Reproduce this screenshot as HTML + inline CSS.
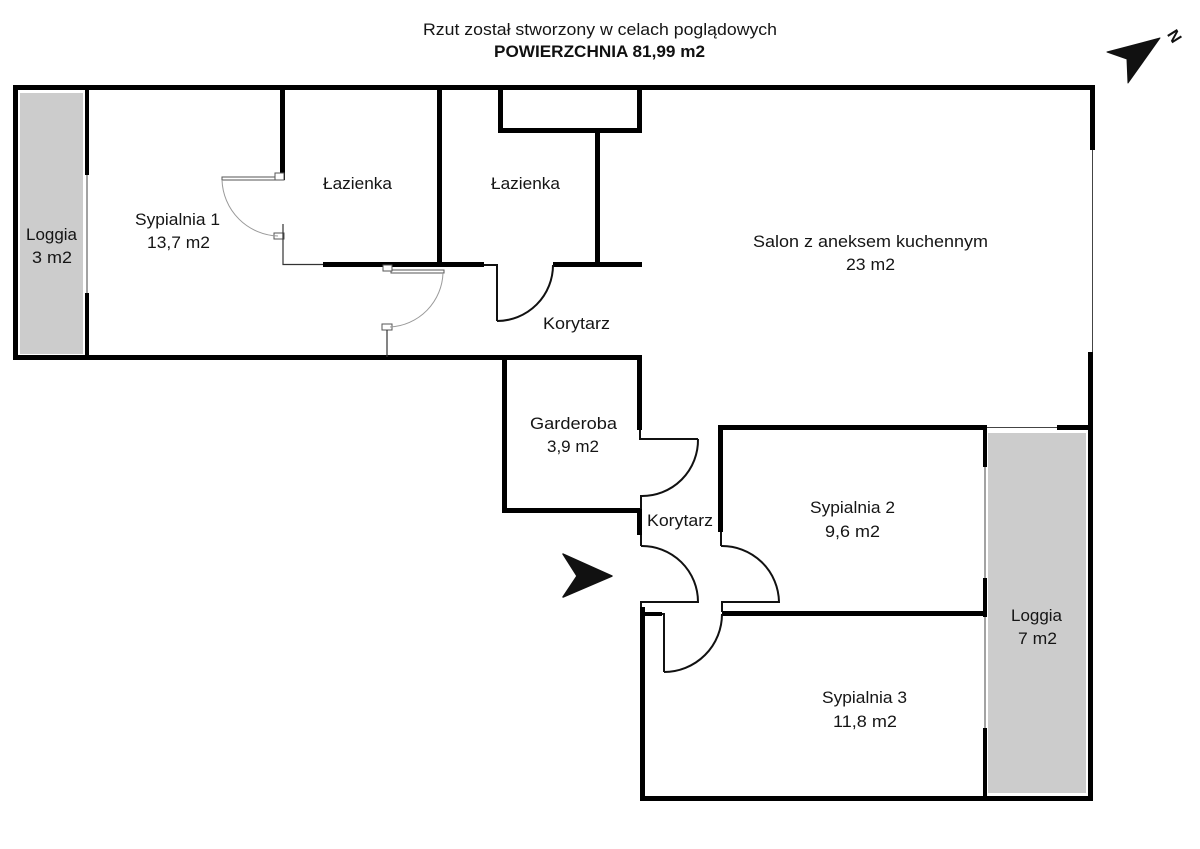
<!DOCTYPE html>
<html><head><meta charset="utf-8"><style>
html,body{margin:0;padding:0;background:#fff;}
svg{display:block;}
text{font-family:"Liberation Sans",Arial,sans-serif;fill:#151515;font-size:16.5px;}
</style></head><body>
<svg width="1200" height="849" viewBox="0 0 1200 849" xmlns="http://www.w3.org/2000/svg">
<rect width="1200" height="849" fill="#fff"/>
<!-- title -->
<text x="423" y="35" textLength="354" lengthAdjust="spacingAndGlyphs" font-size="16.5">Rzut został stworzony w celach poglądowych</text>
<text x="494" y="57" textLength="211" lengthAdjust="spacingAndGlyphs" font-size="17" font-weight="bold" style="fill:#111">POWIERZCHNIA 81,99 m2</text>

<!-- compass -->
<polygon points="1160,38 1107,52 1127,59 1128,83" fill="#111" stroke="#111" stroke-width="1" stroke-linejoin="round"/>
<text x="1170" y="36" font-size="12" font-weight="bold" transform="rotate(58 1170 32)" style="fill:#111">N</text>

<!-- loggia fills -->
<rect x="20" y="93" width="63" height="261" fill="#cccccc"/>
<rect x="988" y="433" width="98" height="360" fill="#cccccc"/>

<g fill="#000">
<!-- upper outer -->
<rect x="13" y="85" width="1082" height="5"/>
<rect x="13" y="85" width="5" height="275"/>
<rect x="13" y="355" width="629" height="5"/>
<rect x="1090" y="85" width="5" height="65"/>
<rect x="1088" y="352" width="5" height="449"/>
<!-- loggia 1 inner wall -->
<rect x="85" y="90" width="4" height="85"/>
<rect x="85" y="293" width="4" height="64"/>
<!-- bathroom walls -->
<rect x="280" y="90" width="5" height="90"/>
<rect x="437" y="90" width="5" height="175"/>
<rect x="323" y="262" width="161" height="5"/>
<rect x="553" y="262" width="89" height="5"/>
<!-- closet -->
<rect x="498" y="90" width="5" height="43"/>
<rect x="637" y="90" width="5" height="43"/>
<rect x="498" y="128" width="144" height="5"/>
<rect x="595" y="128" width="5" height="137"/>
<!-- garderoba -->
<rect x="502" y="357" width="5" height="156"/>
<rect x="502" y="508" width="140" height="5"/>
<rect x="637" y="357" width="5" height="73"/>
<rect x="637" y="509" width="5" height="26"/>
<!-- bedroom 2 -->
<rect x="718" y="425" width="5" height="107"/>
<rect x="718" y="425" width="269" height="5"/>
<rect x="983" y="425" width="4" height="42"/>
<rect x="983" y="578" width="4" height="39"/>
<rect x="722" y="611" width="265" height="5"/>
<!-- bedroom 3 -->
<rect x="640" y="607" width="5" height="194"/>
<rect x="640" y="612" width="22" height="4"/>
<rect x="983" y="728" width="4" height="70"/>
<rect x="640" y="796" width="453" height="5"/>
<!-- loggia 2 top -->
<rect x="1057" y="425" width="36" height="5"/>
</g>

<!-- thin window lines -->
<g stroke="#444" stroke-width="1" fill="none">
<line x1="87" y1="175" x2="87" y2="293"/>
<line x1="1092.5" y1="150" x2="1092.5" y2="352"/>
<line x1="985" y1="467" x2="985" y2="578"/>
<line x1="985" y1="617" x2="985" y2="728"/>
<line x1="987" y1="427.5" x2="1057" y2="427.5"/>
</g>

<!-- upper thin doors -->
<g stroke="#555" stroke-width="1" fill="#fff">
<rect x="222" y="177" width="53" height="3"/>
<rect x="275" y="173" width="9" height="7"/>
<rect x="274" y="233" width="10" height="6"/>
<rect x="391" y="270" width="53" height="3"/>
<rect x="383" y="265" width="9" height="6"/>
<rect x="382" y="324" width="10" height="6"/>
</g>
<g stroke="#999" stroke-width="1" fill="none">
<path d="M222,180 A58,58 0 0 0 278,236"/>
<path d="M443,273 A56,56 0 0 1 390,327"/>
</g>
<g stroke="#333" stroke-width="1.2" fill="none">
<polyline points="283,224 283,264.5 323,264.5"/>
<line x1="387" y1="330" x2="387" y2="357"/>
</g>

<!-- lower doors (black 2px) -->
<g stroke="#111" stroke-width="2" fill="none">
<polyline points="484,265 497,265 497,321"/>
<path d="M497,321 A56,56 0 0 0 553,265"/>
<polyline points="640,430 640,439 698,439"/>
<path d="M698,439 A56,56 0 0 1 641,496 L641,509"/>
<polyline points="641,535 641,546"/>
<path d="M641,546 A56,56 0 0 1 698,602 L641,602 L641,607"/>
<polyline points="721,532 721,546"/>
<path d="M721,546 A57,57 0 0 1 779,602 L722,602 L722,612"/>
<polyline points="662,614 664,614 664,672"/>
<path d="M664,672 A58,58 0 0 0 722,614"/>
</g>

<!-- entry arrow -->
<polygon points="563,554 612,576 563,597 577,576" fill="#111" stroke="#111" stroke-width="1.5" stroke-linejoin="round"/>

<!-- labels -->
<text x="26" y="240" textLength="51" lengthAdjust="spacingAndGlyphs">Loggia</text>
<text x="32" y="263" textLength="40" lengthAdjust="spacingAndGlyphs">3 m2</text>
<text x="135" y="225" textLength="85" lengthAdjust="spacingAndGlyphs">Sypialnia 1</text>
<text x="147" y="248" textLength="63" lengthAdjust="spacingAndGlyphs">13,7 m2</text>
<text x="323" y="189" textLength="69" lengthAdjust="spacingAndGlyphs">Łazienka</text>
<text x="491" y="189" textLength="69" lengthAdjust="spacingAndGlyphs">Łazienka</text>
<text x="753" y="247" textLength="235" lengthAdjust="spacingAndGlyphs">Salon z aneksem kuchennym</text>
<text x="846" y="270" textLength="49" lengthAdjust="spacingAndGlyphs">23 m2</text>
<text x="543" y="329" textLength="67" lengthAdjust="spacingAndGlyphs">Korytarz</text>
<text x="530" y="429" textLength="87" lengthAdjust="spacingAndGlyphs">Garderoba</text>
<text x="547" y="452" textLength="52" lengthAdjust="spacingAndGlyphs">3,9 m2</text>
<text x="647" y="526" textLength="66" lengthAdjust="spacingAndGlyphs">Korytarz</text>
<text x="810" y="513" textLength="85" lengthAdjust="spacingAndGlyphs">Sypialnia 2</text>
<text x="825" y="537" textLength="55" lengthAdjust="spacingAndGlyphs">9,6 m2</text>
<text x="822" y="703" textLength="85" lengthAdjust="spacingAndGlyphs">Sypialnia 3</text>
<text x="833" y="727" textLength="64" lengthAdjust="spacingAndGlyphs">11,8 m2</text>
<text x="1011" y="621" textLength="51" lengthAdjust="spacingAndGlyphs">Loggia</text>
<text x="1018" y="644" textLength="39" lengthAdjust="spacingAndGlyphs">7 m2</text>
</svg>
</body></html>
